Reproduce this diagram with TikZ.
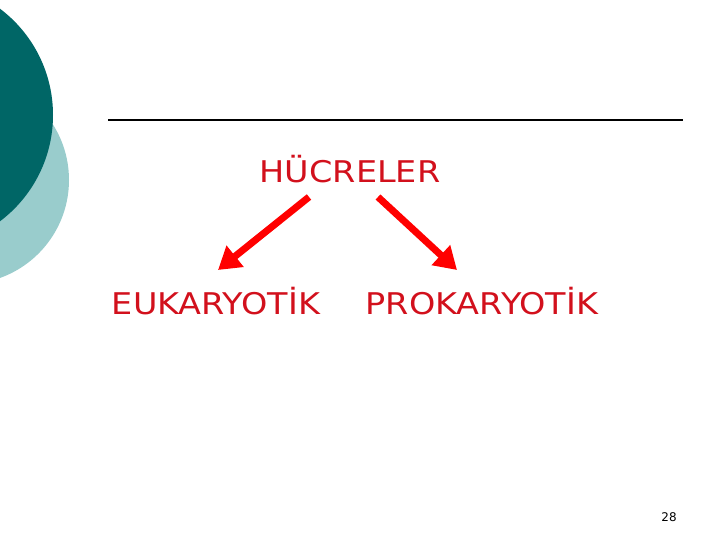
\documentclass[tikz,border=0pt]{standalone}
\usepackage{fontspec}
\setmainfont{DejaVu Sans}
\newfontfamily\widefont[FakeStretch=1.12]{DejaVu Sans}
\usetikzlibrary{arrows.meta}
\definecolor{darkteal}{RGB}{0,102,102}
\definecolor{lightteal}{RGB}{153,204,204}
\definecolor{txtred}{RGB}{210,16,28}
\tikzset{
  lbl/.style={text=txtred, font=\widefont\fontsize{30}{34}\selectfont, inner sep=0pt},
  redarrow/.style={draw=red, line width=7bp, -{Triangle[length=22bp,width=26bp]}},
}
\begin{document}
\begin{tikzpicture}[x=1bp,y=-1bp]
\useasboundingbox (0,0) rectangle (720,540);
\fill[lightteal] (-35,180) circle (104);
\fill[darkteal] (-80,115) circle (133);
\draw[line width=1.5bp] (108,120) -- (683,120);
\node[lbl] (h) at (350,169) {HÜCRELER};
\node[lbl] (e) at (216,301) {EUKARYOTİK};
\node[lbl] (p) at (482,301) {PROKARYOTİK};
\node[font=\fontsize{12}{14}\selectfont, inner sep=0pt] (n) at (669,517) {28};
\coordinate (ls) at (309,197);
\coordinate (le) at (218,270);
\coordinate (rs) at (378,197);
\coordinate (re) at (457,270);
\draw[redarrow] (ls) -- (le);
\draw[redarrow] (rs) -- (re);
\end{tikzpicture}
\end{document}
